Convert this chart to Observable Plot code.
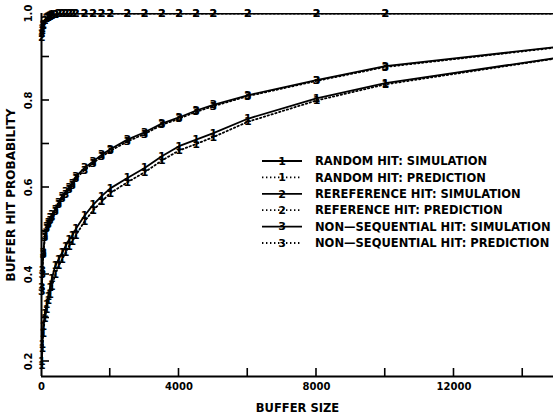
<!DOCTYPE html>
<html><head><meta charset="utf-8">
<script src="https://cdn.jsdelivr.net/npm/d3@7"></script>
<script src="https://cdn.jsdelivr.net/npm/@observablehq/plot@0.6"></script>
<style>html,body{margin:0;padding:0;background:#fff}svg{display:block}</style>
</head><body><div id="chart"></div>
<script>
// ---- data ----
const bufferSizes = [10, 25, 50, 100, 150, 200, 250, 300, 400, 500, 600, 700, 800, 900, 1000, 1250, 1500, 1750, 2000, 2500, 3000, 3500, 4000, 4500, 5000, 6000, 8000, 10000, 15000];
const randomSim   = [0.20, 0.24, 0.28, 0.31, 0.33, 0.35, 0.37, 0.39, 0.42, 0.435, 0.45, 0.465, 0.48, 0.49, 0.505, 0.535, 0.56, 0.58, 0.598, 0.622, 0.645, 0.672, 0.695, 0.71, 0.725, 0.758, 0.805, 0.84, 0.898];
const randomPred  = [0.19, 0.23, 0.265, 0.30, 0.32, 0.34, 0.355, 0.372, 0.40, 0.42, 0.435, 0.45, 0.465, 0.477, 0.49, 0.522, 0.547, 0.568, 0.587, 0.612, 0.635, 0.662, 0.685, 0.70, 0.716, 0.751, 0.80, 0.837, 0.897];
const rerefSim    = [0.955, 0.965, 0.975, 0.985, 0.99, 0.993, 0.995, 0.997, 0.998, 0.999, 0.999, 0.999, 1.0, 1.0, 1.0, 1.0, 1.0, 1.0, 1.0, 1.0, 1.0, 1.0, 1.0, 1.0, 1.0, 1.0, 1.0, 1.0, 1.0];
const rerefPred   = [0.945, 0.96, 0.972, 0.983, 0.989, 0.992, 0.994, 0.996, 0.998, 0.999, 0.999, 0.999, 1.0, 1.0, 1.0, 1.0, 1.0, 1.0, 1.0, 1.0, 1.0, 1.0, 1.0, 1.0, 1.0, 1.0, 1.0, 1.0, 1.0];
const nonseqSim   = [0.37, 0.41, 0.45, 0.49, 0.51, 0.52, 0.53, 0.537, 0.55, 0.565, 0.58, 0.59, 0.60, 0.61, 0.625, 0.645, 0.66, 0.675, 0.688, 0.71, 0.727, 0.747, 0.761, 0.777, 0.79, 0.812, 0.847, 0.879, 0.923];
const nonseqPred  = [0.36, 0.40, 0.445, 0.485, 0.505, 0.515, 0.525, 0.532, 0.545, 0.56, 0.575, 0.585, 0.595, 0.605, 0.62, 0.64, 0.656, 0.671, 0.684, 0.706, 0.723, 0.744, 0.758, 0.774, 0.787, 0.81, 0.845, 0.877, 0.922];
const seriesLabels = ["RANDOM HIT: SIMULATION", "RANDOM HIT: PREDICTION", "REREFERENCE HIT: SIMULATION", "REFERENCE HIT: PREDICTION", "NON\u2014SEQUENTIAL HIT: SIMULATION", "NON\u2014SEQUENTIAL HIT: PREDICTION"];
const seriesMarkers = ["1", "1", "2", "2", "3", "3"];
const seriesDotted = [false, true, false, true, false, true];
const seriesValues = [randomSim, randomPred, rerefSim, rerefPred, nonseqSim, nonseqPred];
const xTicks = [0, 4000, 8000, 12000];
const xMinorTicks = [2000, 6000, 10000, 14000];
const yTicks = [0.2, 0.4, 0.6, 0.8, 1.0];
const yMinorTicks = [0.3, 0.5, 0.7, 0.9];
const xTitle = "BUFFER SIZE";
const yTitle = "BUFFER HIT PROBABILITY";
const markerMaxSize = 10000;

// ---- build rows ----
const rows = seriesValues.flatMap((vals, s) => bufferSizes.map((x, i) => ({
  s, x, y: vals[i], marker: seriesMarkers[s], dotted: seriesDotted[s]
})));
const solidRows = rows.filter(d => !d.dotted);
const dottedRows = rows.filter(d => d.dotted);
const markerRows = rows.filter(d => d.x <= markerMaxSize);

const FONT = "DejaVu Sans, sans-serif";
const yMin = 0.1655, xMax = 14895;
const TICK = 8;

const chart = Plot.plot({
  width: 553, height: 419,
  marginLeft: 41, marginRight: 0, marginTop: 13, marginBottom: 43,
  x: {domain: [0, xMax]},
  y: {domain: [yMin, 1.0]},
  style: {fontFamily: FONT, fontSize: "10px", fontWeight: "bold", color: "#000", background: "#fff", overflow: "visible"},
  marks: [
    Plot.line(solidRows, {x: "x", y: "y", z: "s", stroke: "#000", strokeWidth: 1.8, clip: true}),
    Plot.line(dottedRows, {x: "x", y: "y", z: "s", stroke: "#000", strokeWidth: 1.8, strokeDasharray: "1.4,2.6", clip: true}),
    Plot.text(markerRows, {x: "x", y: "y", text: "marker", fill: "#000", fontSize: 11, fontWeight: "bold", fontFamily: FONT}),
    Plot.axisX({ticks: xTicks, tickSize: 0, tickPadding: 6, tickFormat: d => String(d), fontSize: 10, label: xTitle, labelAnchor: "center", labelOffset: 35}),
    Plot.axisY({ticks: yTicks, tickSize: 0, tickPadding: 10, tickRotate: -90, tickFormat: d3.format(".1f"), fontSize: 10, label: yTitle, labelAnchor: "center", labelOffset: 35}),
    Plot.ruleX([0], {stroke: "#000", strokeWidth: 2}),
    Plot.ruleY([yMin], {stroke: "#000", strokeWidth: 2})
  ]
});
document.getElementById("chart").appendChild(chart);

const svg = d3.select(chart);
// axis titles: no arrows, slightly larger
svg.selectAll("[aria-label='x-axis label'] text").text(xTitle).style("font-size", "11.5px");
svg.selectAll("[aria-label='y-axis label'] text").text(yTitle).style("font-size", "12px");

// inward tick marks, positioned through Plot's own scales
const sx = chart.scale("x"), sy = chart.scale("y");
const x0 = sx.apply(0), yb = sy.apply(yMin);
const tg = svg.append("g").attr("stroke", "#000").attr("stroke-width", 1.6);
[...xTicks.slice(1), ...xMinorTicks].forEach(v => {
  const px = sx.apply(v);
  tg.append("line").attr("x1", px).attr("x2", px).attr("y1", yb).attr("y2", yb - TICK);
});
[...yTicks.slice(0, 4), ...yMinorTicks].forEach(v => {
  const py = sy.apply(v);
  tg.append("line").attr("x1", x0).attr("x2", x0 + TICK).attr("y1", py).attr("y2", py);
});

// ---- legend (inside the plot area) ----
const lg = svg.append("g").attr("transform", "translate(262,161)").attr("text-anchor", "start");
const rowH = 16.4;
seriesLabels.forEach((label, i) => {
  const g = lg.append("g").attr("transform", `translate(0,${i * rowH})`);
  g.append("line").attr("x1", 0).attr("x2", 40).attr("y1", 0).attr("y2", 0)
    .attr("stroke", "#000").attr("stroke-width", 1.8)
    .attr("stroke-dasharray", seriesDotted[i] ? "1.4,2.6" : null);
  g.append("text").attr("x", 20).attr("y", 0).attr("dy", "0.35em").attr("text-anchor", "middle")
    .attr("font-family", FONT).attr("font-weight", "bold").attr("font-size", 11).text(seriesMarkers[i]);
  g.append("text").attr("x", 53).attr("y", 0).attr("dy", "0.36em").attr("text-anchor", "start")
    .attr("font-family", FONT).attr("font-weight", "bold").attr("font-size", 11.5).text(label);
});
</script>
</body></html>
